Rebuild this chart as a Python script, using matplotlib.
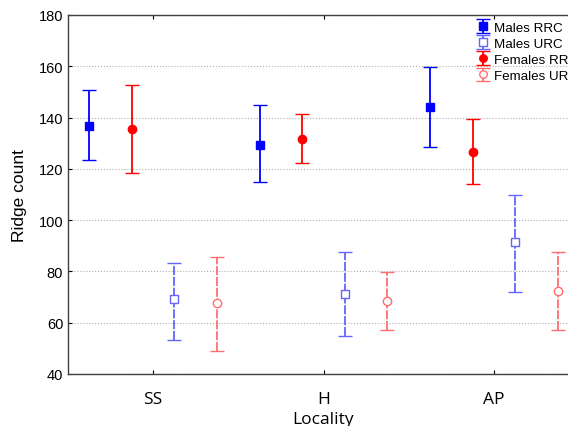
import matplotlib
matplotlib.use("Agg")
import matplotlib.pyplot as plt
import numpy as np

plt.rcParams["font.family"] = ["Liberation Sans", "DejaVu Sans"]

localities = ["SS", "H", "AP"]

# mean, lower limit, upper limit per locality
males_rrc = [136.7, 129.3, 144.1]
males_rrc_lo = [123.5, 114.9, 128.5]
males_rrc_hi = [150.8, 144.9, 159.7]

females_rrc = [135.5, 131.7, 126.6]
females_rrc_lo = [118.4, 122.3, 114.1]
females_rrc_hi = [152.7, 141.4, 139.5]

males_urc = [69.2, 71.2, 91.5]
males_urc_lo = [53.3, 54.8, 72.0]
males_urc_hi = [83.3, 87.6, 109.8]

females_urc = [67.7, 68.5, 72.4]
females_urc_lo = [49.0, 57.2, 57.2]
females_urc_hi = [85.6, 79.8, 87.6]

fig = plt.figure(figsize=(5.68, 4.27), dpi=100)
ax = fig.add_axes([68 / 568, 52 / 427, 511 / 568, 359 / 427])

x = np.arange(len(localities))

series = [
    ("Males RRC", males_rrc, males_rrc_lo, males_rrc_hi, -0.375, "#0000ff", "s", True, "-"),
    ("Males URC", males_urc, males_urc_lo, males_urc_hi, 0.125, "#6464ff", "s", False, (0, (5, 1))),
    ("Females RRC", females_rrc, females_rrc_lo, females_rrc_hi, -0.125, "#ff0000", "o", True, "-"),
    ("Females URC", females_urc, females_urc_lo, females_urc_hi, 0.375, "#ff6e6e", "o", False, (0, (5, 1))),
]

for label, mean, lo, hi, off, color, marker, filled, ls in series:
    mean = np.array(mean)
    yerr = [mean - np.array(lo), np.array(hi) - mean]
    eb = ax.errorbar(
        x + off, mean, yerr=yerr, fmt=marker, color=color, ecolor=color,
        markersize=6, markerfacecolor=color if filled else "white",
        markeredgecolor=color, markeredgewidth=1.0, elinewidth=1.3,
        capsize=5, capthick=1.3, label=label, zorder=3,
    )
    eb[2][0].set_linestyle(ls)

ax.set_xlim(-0.5, 2.5)
ax.set_ylim(40, 180)
ax.set_xticks(x)
ax.set_xticklabels(localities, fontsize=12.5, fontfamily=["Open Sans", "DejaVu Sans"])
ax.set_yticks(np.arange(40, 181, 20))
ax.tick_params(axis="y", labelsize=10.5, direction="in", length=3)
ax.tick_params(axis="x", direction="in", length=3, top=True, pad=12)
ax.yaxis.grid(True, linestyle=":", color="#b0b0b0", linewidth=0.8)
ax.set_axisbelow(True)

ax.set_ylabel("Ridge count", fontsize=12.5, labelpad=8)
ax.set_xlabel("Locality", fontsize=12.5, labelpad=3,
              fontfamily=["Open Sans", "DejaVu Sans"])

for sp in ax.spines.values():
    sp.set_color("#404040")
    sp.set_linewidth(1.0)
ax.spines["right"].set_visible(False)

fig.legend(
    loc="upper left", bbox_to_anchor=(471 / 568, 1 - 17 / 427),
    frameon=False, fontsize=9.6, handlelength=1.05, handletextpad=0.25,
    labelspacing=0.28, borderaxespad=0, markerscale=0.9,
)

fig.savefig("out.png", dpi=100)
